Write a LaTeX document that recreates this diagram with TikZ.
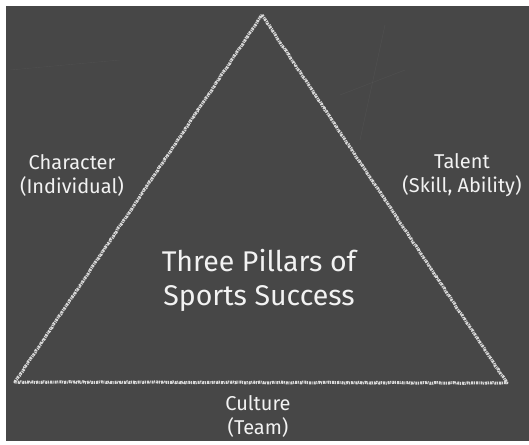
\documentclass[tikz,border=0pt]{standalone}
\usepackage{fontspec}
\setmainfont{Fira Sans}
\usetikzlibrary{decorations.pathmorphing}

\definecolor{board}{HTML}{474747}
\definecolor{chalk}{HTML}{F2F2F2}

\tikzset{
  chalkline/.style={chalk!85!board, line width=3pt, line join=round,
    dash pattern=on 2pt off 1pt on 1pt off 0.7pt,
    decorate, decoration={random steps, segment length=2pt, amplitude=0.45pt}},
  label/.style={text=chalk, font=\fontsize{20}{24}\selectfont, align=center},
  title/.style={text=chalk, font=\fontsize{28.5}{34}\selectfont, align=center}
}

\begin{document}
\begin{tikzpicture}[x=1pt,y=-1pt]
\useasboundingbox (0,0) rectangle (529,444);
\fill[white] (0,0) rectangle (529,444);
\fill[board] (6,6) rectangle (529,441);

% faint scratches on the board
\draw[white,opacity=0.05,line width=0.4pt] (340,95) -- (405,70);
\draw[white,opacity=0.05,line width=0.4pt] (360,140) -- (385,25);
\draw[white,opacity=0.04,line width=0.4pt] (10,70) -- (120,60);

\coordinate (top) at (262,15);
\coordinate (left) at (15,382);
\coordinate (right) at (507,383);

\draw[chalkline] (top) -- (right) -- (left) -- cycle;

\node[label] (character) at (72,175) {Character\\(Individual)};
\node[label] (talent) at (462,175) {Talent\\(Skill, Ability)};
\node[title] (pillars) at (259,280) {Three Pillars of\\Sports Success};
\node[label] (culture) at (258,416) {Culture\\(Team)};
\end{tikzpicture}
\end{document}
